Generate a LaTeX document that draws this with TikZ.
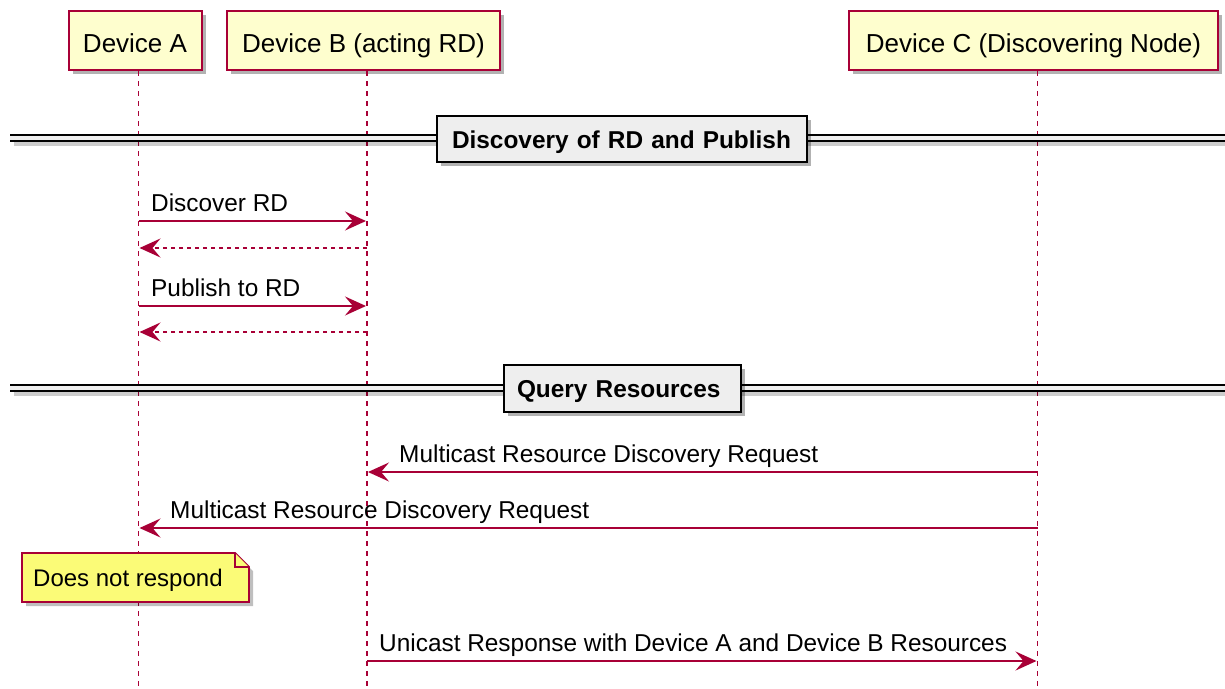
\documentclass[tikz,border=0pt]{standalone}
\usepackage{fontspec}
\setmainfont{Liberation Sans}
\usetikzlibrary{arrows.meta,shadows}
\definecolor{plcrim}{HTML}{A80036}
\definecolor{plbox}{HTML}{FEFECE}
\definecolor{plnote}{HTML}{FBFB77}
\definecolor{plsep}{HTML}{EEEEEE}
\tikzset{
  part/.style={draw=plcrim, fill=plbox, line width=2pt, inner sep=0pt,
    text height=24pt, text depth=0pt,
    font=\fontsize{26}{30}\selectfont,
    drop shadow={shadow xshift=4pt, shadow yshift=-4pt, opacity=0.3, fill=black}},
  lifeline/.style={draw=plcrim, line width=1.5pt, dash pattern=on 5pt off 5pt},
  seplabel/.style={draw=black, fill=plsep, line width=2.2pt, inner ysep=0pt,
    text height=18pt, text depth=0pt, align=left,
    font=\fontsize{24.4}{28}\selectfont\bfseries,
    drop shadow={shadow xshift=4pt, shadow yshift=-4pt, opacity=0.3, fill=black}},
  msg/.style={draw=plcrim, line width=1.8pt, -{Stealth[length=21pt,width=19pt,inset=8pt]}},
  ret/.style={msg, dash pattern=on 4pt off 4pt},
  lbl/.style={anchor=base west, inner sep=0pt, font=\fontsize{24.4}{28}\selectfont},
  notebox/.style={draw=plcrim, fill=plnote, line width=1.8pt, line join=miter}
}
\begin{document}
\begin{tikzpicture}[x=1pt,y=-1pt]
\useasboundingbox (0,0) rectangle (1225,688);
% participants
\node[part, minimum width=133pt, minimum height=59pt] (A) at (135,40.5) {Device A};
\node[part, minimum width=273pt, minimum height=59pt] (B) at (363.5,40.5) {Device B (acting RD)};
\node[part, minimum width=369pt, minimum height=59pt] (C) at (1033.5,40.5) {Device C (Discovering Node)};
% lifelines
\coordinate (At) at (138.5,71); \coordinate (Ab) at (138.5,688);
\coordinate (Bt) at (367,71);   \coordinate (Bb) at (367,688);
\coordinate (Ct) at (1037.5,71); \coordinate (Cb) at (1037.5,688);
\draw[lifeline] (At) -- (Ab);
\draw[lifeline] (Bt) -- (Bb);
\draw[lifeline] (Ct) -- (Cb);
% separator 1
\fill[black, opacity=0.2] (14,141) rectangle (1225,146);
\fill[plsep] (10,135) rectangle (1225,141);
\draw[line width=1.8pt] (10,135) -- (1225,135);
\draw[line width=1.8pt] (10,141) -- (1225,141);
\node[seplabel, minimum width=370pt, minimum height=46pt, inner xsep=15pt, text width=340pt] (S1) at (622,139) {Discovery of RD and Publish};
% separator 2
\fill[black, opacity=0.2] (14,391) rectangle (1225,396);
\fill[plsep] (10,385) rectangle (1225,391);
\draw[line width=1.8pt] (10,385) -- (1225,385);
\draw[line width=1.8pt] (10,391) -- (1225,391);
\node[seplabel, minimum width=237pt, minimum height=47pt, inner xsep=13pt, text width=211pt] (S2) at (622.5,388.5) {Query Resources};
% messages
\coordinate (a1) at (138.5,221); \coordinate (b1) at (366,221);
\draw[msg] (a1) -- (b1);
\node[lbl] (l1) at (151,211.5) {Discover RD};
\coordinate (b2) at (367,248); \coordinate (a2) at (139.5,248);
\draw[ret] (b2) -- (a2);
\coordinate (a3) at (138.5,306); \coordinate (b3) at (366,306);
\draw[msg] (a3) -- (b3);
\node[lbl] (l3) at (151,296.5) {Publish to RD};
\coordinate (b4) at (367,332); \coordinate (a4) at (139.5,332);
\draw[ret] (b4) -- (a4);
\coordinate (c5) at (1037.5,472); \coordinate (b5) at (368,472);
\draw[msg] (c5) -- (b5);
\node[lbl] (l5) at (399,462.5) {Multicast Resource Discovery Request};
\coordinate (c6) at (1037.5,528); \coordinate (a6) at (139.5,528);
\draw[msg] (c6) -- (a6);
\node[lbl] (l6) at (170,518.5) {Multicast Resource Discovery Request};
% note
\fill[black, opacity=0.25] (26,557) -- (239,557) -- (253,571) -- (253,606) -- (26,606) -- cycle;
\draw[notebox] (22,553) -- (235,553) -- (249,567) -- (249,602) -- (22,602) -- cycle;
\draw[notebox] (235,553) -- (235,567) -- (249,567);
\node[anchor=base west, inner sep=0pt, font=\fontsize{24}{28}\selectfont] (N) at (33,586) {Does not respond};
% unicast
\coordinate (b7) at (367,661); \coordinate (c7) at (1036.5,661);
\draw[msg] (b7) -- (c7);
\node[lbl] (l7) at (379,651) {Unicast Response with Device A and Device B Resources};
\end{tikzpicture}
\end{document}
